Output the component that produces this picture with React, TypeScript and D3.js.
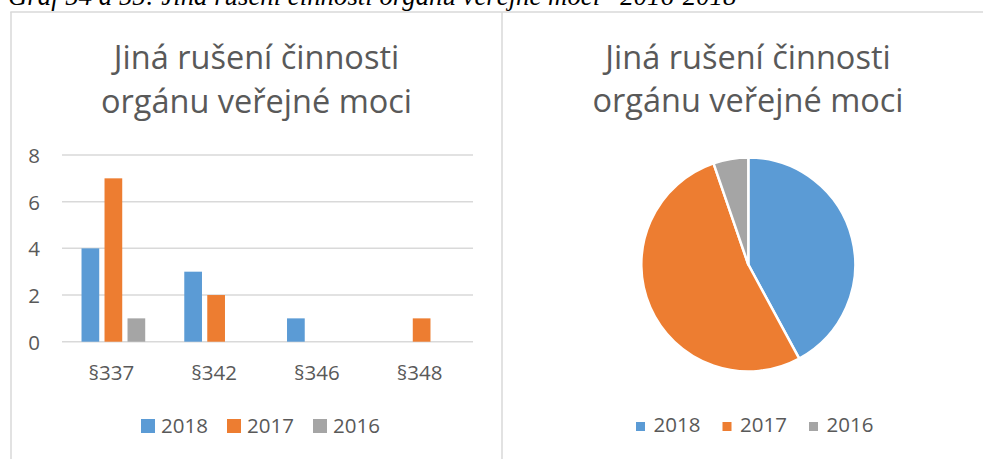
import React from "react";
import * as d3 from "d3";

const categories = ["§337", "§342", "§346", "§348"];
const seriesNames = ["2018", "2017", "2016"];
const values2018 = [4, 3, 1, 0];
const values2017 = [7, 2, 0, 1];
const values2016 = [1, 0, 0, 0];
const yTicks = [0, 2, 4, 6, 8];
const colors = ["#5B9BD5", "#ED7D31", "#A5A5A5"];
const titleLines = ["Jiná rušení činnosti", "orgánu veřejné moci"];
const caption = "Graf 54 a 55: Jiná rušení činnosti orgánu veřejné moci– 2016-2018";

const W = 983;
const H = 459;
const FONT = "'Open Sans', sans-serif";
const TEXT = "#595959";
const GRID = "#D9D9D9";

export default function App() {
  const series = [values2018, values2017, values2016];

  // bar chart scales
  const x0 = d3.scaleBand<string>().domain(categories).range([62, 473]).paddingInner(0).paddingOuter(0);
  const groupW = 63.7;
  const x1 = d3.scaleBand<string>().domain(seriesNames).range([0, groupW]).paddingInner(0.23);
  const y = d3.scaleLinear().domain([0, 8]).range([341.7, 155]);

  // pie
  const totals = series.map((s) => d3.sum(s));
  const pie = d3.pie<number>().sort(null).startAngle(0).endAngle(2 * Math.PI);
  const arcs = pie(totals);
  const arcGen = d3.arc<d3.PieArcDatum<number>>().innerRadius(0).outerRadius(107);
  const pcx = 748.3;
  const pcy = 264.5;

  return (
    <svg
      width={W}
      height={H}
      style={{ position: "absolute", left: 0, top: 0, background: "#fff" }}
      fontFamily={FONT}
    >
      <rect x={0} y={0} width={W} height={H} fill="#fff" />
      {/* caption */}
      <text
        x={8}
        y={5}
        fontFamily="'Liberation Serif', serif"
        fontStyle="italic"
        fontSize={26.8}
        fill="#000"
      >
        {caption}
      </text>
      {/* borders */}
      <line x1={10.3} x2={W} y1={12} y2={12} stroke={GRID} strokeWidth={1.5} />
      <line x1={11} x2={11} y1={12} y2={H} stroke={GRID} strokeWidth={1.5} />
      <line x1={502} x2={502} y1={12} y2={H} stroke={GRID} strokeWidth={1.5} />

      {/* bar chart title */}
      {titleLines.map((t, i) => (
        <text key={"bt" + i} x={256.5} y={69 + i * 43.5} textAnchor="middle" fontSize={32.5} fill={TEXT}>
          {t}
        </text>
      ))}

      {/* gridlines */}
      {yTicks.map((t) => (
        <g key={"g" + t}>
          <line x1={62} x2={473} y1={y(t)} y2={y(t)} stroke={GRID} strokeWidth={1.5} />
          <text x={40} y={y(t) + 8} textAnchor="end" fontSize={20.5} fill={TEXT}>
            {t}
          </text>
        </g>
      ))}

      {/* bars */}
      {series.map((s, si) =>
        s.map((v, ci) =>
          v > 0 ? (
            <rect
              key={`b${si}-${ci}`}
              x={(x0(categories[ci]) as number) + (x0.bandwidth() - groupW) / 2 + (x1(seriesNames[si]) as number)}
              y={y(v)}
              width={x1.bandwidth()}
              height={y(0) - y(v)}
              fill={colors[si]}
            />
          ) : null
        )
      )}

      {/* x labels */}
      {categories.map((c) => (
        <text
          key={"x" + c}
          x={(x0(c) as number) + x0.bandwidth() / 2 - 2}
          y={380}
          textAnchor="middle"
          fontSize={20.5}
          fill={TEXT}
        >
          {c}
        </text>
      ))}

      {/* bar legend */}
      {seriesNames.map((n, i) => (
        <g key={"bl" + n} transform={`translate(${141 + i * 86},0)`}>
          <rect x={0} y={419} width={14} height={14} fill={colors[i]} />
          <text x={20} y={433} fontSize={20.5} fill={TEXT}>
            {n}
          </text>
        </g>
      ))}

      {/* pie title */}
      {titleLines.map((t, i) => (
        <text key={"pt" + i} x={748} y={68.5 + i * 43.5} textAnchor="middle" fontSize={32.5} fill={TEXT}>
          {t}
        </text>
      ))}

      {/* pie */}
      <g transform={`translate(${pcx},${pcy})`}>
        {arcs.map((a, i) => (
          <path key={"p" + i} d={arcGen(a) as string} fill={colors[i]} stroke="#fff" strokeWidth={2.5} strokeLinejoin="round" />
        ))}
      </g>

      {/* pie legend */}
      {seriesNames.map((n, i) => (
        <g key={"pl" + n} transform={`translate(${636 + i * 86.5},0)`}>
          <rect x={0} y={422} width={9} height={9} fill={colors[i]} />
          <text x={17.5} y={432.3} fontSize={20.5} fill={TEXT}>
            {n}
          </text>
        </g>
      ))}
    </svg>
  );
}
